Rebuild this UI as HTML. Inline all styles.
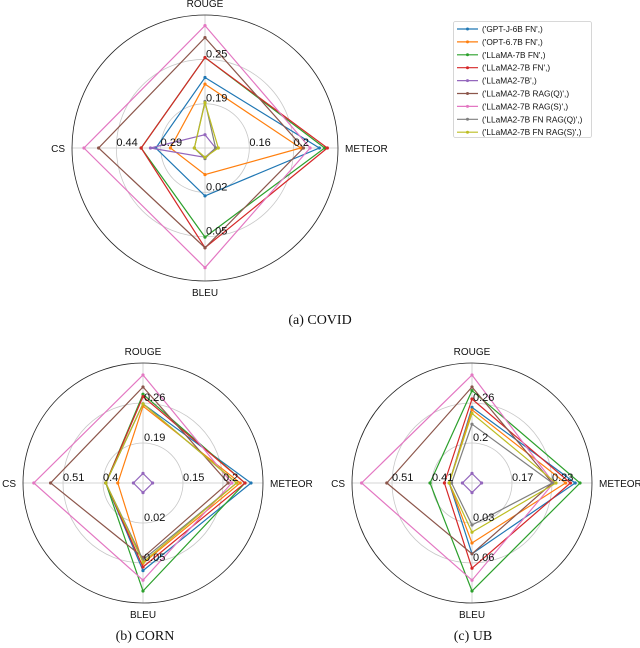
<!DOCTYPE html>
<html><head><meta charset="utf-8"><style>
body{margin:0;background:#fff;width:640px;height:648px;overflow:hidden;font-family:"Liberation Sans",sans-serif}
svg{position:absolute;left:0;top:0}
</style></head><body>
<svg id="s" width="640" height="648" xmlns="http://www.w3.org/2000/svg"></svg>
<script>
const axes=["ROUGE","METEOR","BLEU","CS"];
const seriesNames=["('GPT-J-6B FN',)","('OPT-6.7B FN',)","('LLaMA-7B FN',)","('LLaMA2-7B FN',)","('LLaMA2-7B',)","('LLaMA2-7B RAG(Q)',)","('LLaMA2-7B RAG(S)',)","('LLaMA2-7B FN RAG(Q)',)","('LLaMA2-7B FN RAG(S)',)"];
const colors=["#1f77b4","#ff7f0e","#2ca02c","#d62728","#9467bd","#8c564b","#e377c2","#7f7f7f","#bcbd22"];
// values per series: [ROUGE, METEOR, BLEU, CS] normalized 0..1
const covidValues=[[0.53,0.86,0.36,0.37],[0.48,0.72,0.20,0.26],[0.68,0.90,0.67,0.48],[0.68,0.92,0.75,0.48],[0.10,0.08,0.07,0.41],[0.83,0.74,0.75,0.80],[0.92,0.79,0.90,0.91],[0.35,0.08,0.08,0.08],[0.34,0.10,0.07,0.08]];
const cornValues=[[0.66,0.90,0.73,0.31],[0.64,0.81,0.67,0.21],[0.74,0.85,0.90,0.31],[0.72,0.85,0.70,0.31],[0.08,0.08,0.08,0.08],[0.80,0.71,0.62,0.77],[0.90,0.74,0.81,0.91],[0.66,0.78,0.64,0.31],[0.66,0.78,0.66,0.31]];
const ubValues=[[0.63,0.86,0.59,0.19],[0.61,0.78,0.50,0.19],[0.77,0.90,0.90,0.35],[0.70,0.82,0.71,0.23],[0.08,0.08,0.08,0.08],[0.80,0.67,0.59,0.71],[0.90,0.68,0.81,0.92],[0.49,0.67,0.35,0.17],[0.58,0.70,0.41,0.19]];
const covidTicks=[["0.19","0.25"],["0.16","0.2"],["0.02","0.05"],["0.29","0.44"]];
const cornTicks=[["0.19","0.26"],["0.15","0.2"],["0.02","0.05"],["0.4","0.51"]];
const ubTicks=[["0.2","0.26"],["0.17","0.23"],["0.03","0.06"],["0.41","0.51"]];
const NS="http://www.w3.org/2000/svg";
const svg=document.getElementById("s");
function mk(t,a,p){const e=document.createElementNS(NS,t);for(const k in a)e.setAttribute(k,a[k]);(p||svg).appendChild(e);return e;}
const dirs=[[0,-1],[1,0],[0,1],[-1,0]];
function radar(name,cx,cy,R,vals,ticks){
  const g=mk("g",{});
  
  
  for(const f of [1/3,2/3]) mk("circle",{cx,cy,r:R*f,fill:"none",stroke:"#c8c8c8","stroke-width":0.8},g);
  dirs.forEach(d=>mk("line",{x1:cx,y1:cy,x2:cx+d[0]*R,y2:cy+d[1]*R,stroke:"#c8c8c8","stroke-width":0.8},g));
  const oc=mk("circle",{cx,cy,r:R,fill:"none",stroke:"#222","stroke-width":0.8},g);
  
  
  vals.forEach((v,i)=>{
    const pts=v.map((x,k)=>[cx+dirs[k][0]*x*R,cy+dirs[k][1]*x*R]);
    const p=mk("polygon",{points:pts.map(q=>q.join(",")).join(" "),fill:"none",stroke:colors[i],"stroke-width":1.2},g);
    
    
    pts.forEach(q=>mk("circle",{cx:q[0],cy:q[1],r:1.6,fill:colors[i]},g));
  });
  ticks.forEach((tl,k)=>tl.forEach((t,j)=>{
    const f=(j+1)/3;
    const x=cx+dirs[k][0]*f*R+(dirs[k][0]===0?1:0), y=cy+dirs[k][1]*f*R-2;
    const e=mk("text",{x,y,"font-size":11,fill:"#111"},g);e.textContent=t;
    
    
  }));
  const lab=[[cx,cy-R-8,"middle"],[cx+R+7,cy+4,"start"],[cx,cy+R+15,"middle"],[cx-R-7,cy+4,"end"]];
  axes.forEach((a,k)=>{const e=mk("text",{x:lab[k][0],y:lab[k][1],"text-anchor":lab[k][2],"font-size":10,fill:"#111"},g);e.textContent=a;
    
    });
}
radar("covid",205,148,133,covidValues,covidTicks);
radar("corn",143,483,120,cornValues,cornTicks);
radar("ub",472,483,120,ubValues,ubTicks);
// legend
const lg=mk("g",{});


mk("rect",{x:453.5,y:21.5,width:138,height:116,rx:2,fill:"#fff",stroke:"#ccc","stroke-width":0.8},lg);
seriesNames.forEach((n,i)=>{
  const y=29+i*12.9;
  mk("line",{x1:457,y1:y,x2:478,y2:y,stroke:colors[i],"stroke-width":1.2},lg);
  mk("circle",{cx:467.5,cy:y,r:1.5,fill:colors[i]},lg);
  const t=mk("text",{x:482,y:y+3,"font-size":8.3,fill:"#111"},lg);t.textContent=n;
  
  
});
const caps=[[320,324,"(a) COVID"],[145,640,"(b) CORN"],[473,640,"(c) UB"]];
caps.forEach(c=>{const t=mk("text",{x:c[0],y:c[1],"text-anchor":"middle","font-size":14,"font-family":"Liberation Serif, serif",fill:"#111"});t.textContent=c[2];
  
  });
</script>
</body></html>
